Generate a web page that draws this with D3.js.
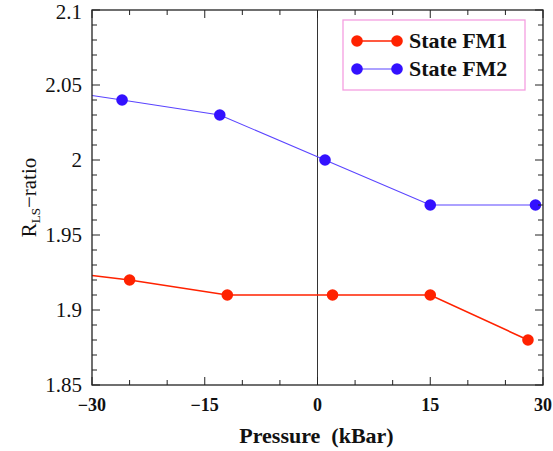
<!DOCTYPE html>
<html>
<head>
<meta charset="utf-8">
<script src="https://cdn.jsdelivr.net/npm/d3@7"></script>
<style>
body { margin: 0; background: #fff; }
svg text { font-family: "Liberation Serif", "Times New Roman", serif; }
</style>
</head>
<body>
<svg id="chart" width="553" height="451"></svg>
<script>
// data; first point of each series has no marker
var fm1Pressure = [-30, -25, -12, 2, 15, 28];
var fm1Ratio = [1.923, 1.92, 1.91, 1.91, 1.91, 1.88];
var fm2Pressure = [-30, -26, -13, 1, 15, 29];
var fm2Ratio = [2.043, 2.04, 2.03, 2.0, 1.97, 1.97];
var xTicks = [-30, -15, 0, 15, 30];
var yTicks = [1.85, 1.9, 1.95, 2, 2.05, 2.1];
var seriesNames = ['State FM1', 'State FM2'];

var svg = d3.select('#chart');
// note: "top" is taken by window.top, so use pTop/pBottom
var pLeft = 92, pRight = 543, pTop = 10, pBottom = 385;
var x = d3.scaleLinear().domain([-30, 30]).range([pLeft, pRight]);
var y = d3.scaleLinear().domain([1.85, 2.1]).range([pBottom, pTop]);

var series = [
    { name: seriesNames[0], px: fm1Pressure, py: fm1Ratio, color: '#ff2200', line: '#ff2200', lw: 1.6 },
    { name: seriesNames[1], px: fm2Pressure, py: fm2Ratio, color: '#3311ff', line: '#5a44ff', lw: 1.1 }
];

// zero line
svg.append('line')
    .attr('x1', x(0)).attr('x2', x(0)).attr('y1', pTop).attr('y2', pBottom)
    .attr('stroke', '#333').attr('stroke-width', 1);

// lines + markers
var lineGen = d3.line().x(function (d) { return x(d[0]); }).y(function (d) { return y(d[1]); });
series.forEach(function (s) {
    var pts = s.px.map(function (v, i) { return [v, s.py[i]]; });
    svg.append('path').datum(pts)
        .attr('d', lineGen).attr('fill', 'none')
        .attr('stroke', s.line).attr('stroke-width', s.lw);
    svg.append('g').selectAll('circle').data(pts.slice(1)).enter()
        .append('circle')
        .attr('cx', function (d) { return x(d[0]); })
        .attr('cy', function (d) { return y(d[1]); })
        .attr('r', 5.8).attr('fill', s.color);
});

// axes with inward ticks
var yMinor = d3.range(0, 26).map(function (i) { return 1.85 + i * 0.01; });
var xMinor = d3.range(0, 13).map(function (i) { return -30 + i * 5; });
var axisG = svg.append('g').attr('stroke', '#222').attr('stroke-width', 1);
function tick(x1, y1, x2, y2) {
    axisG.append('line').attr('x1', x1).attr('y1', y1).attr('x2', x2).attr('y2', y2);
}
yMinor.forEach(function (v, i) {
    var len = (i % 5 === 0) ? 8 : 5;
    tick(pLeft, y(v), pLeft + len, y(v));
    tick(pRight, y(v), pRight - len, y(v));
});
xMinor.forEach(function (v) {
    var len = (v % 15 === 0) ? 8 : 5;
    tick(x(v), pBottom, x(v), pBottom - len);
    tick(x(v), pTop, x(v), pTop + len);
});
svg.append('rect')
    .attr('x', pLeft).attr('y', pTop).attr('width', pRight - pLeft).attr('height', pBottom - pTop)
    .attr('fill', 'none').attr('stroke', '#222').attr('stroke-width', 1.3);

// tick labels
svg.append('g').selectAll('text').data(yTicks).enter().append('text')
    .attr('x', pLeft - 10).attr('y', function (d) { return Math.max(y(d) + 7, 19); })
    .attr('text-anchor', 'end').attr('font-size', 21).attr('fill', '#111')
    .text(function (d) { return d3.format('')(d); });
svg.append('g').selectAll('text').data(xTicks).enter().append('text')
    .attr('x', function (d) { return x(d); }).attr('y', pBottom + 26)
    .attr('text-anchor', 'middle').attr('font-size', 18).attr('font-weight', 'bold').attr('fill', '#111')
    .text(function (d) { return d < 0 ? '\u2212' + Math.abs(d) : d; });

// axis titles
svg.append('text')
    .attr('x', (pLeft + pRight) / 2 - 1).attr('y', 443)
    .attr('text-anchor', 'middle').attr('font-size', 22).attr('font-weight', 'bold').attr('fill', '#111')
    .attr('xml:space', 'preserve')
    .text('Pressure  (kBar)');
var yt = svg.append('text')
    .attr('transform', 'translate(36,' + ((pTop + pBottom) / 2) + ') rotate(-90)')
    .attr('text-anchor', 'middle').attr('font-size', 21).attr('fill', '#111');
yt.append('tspan').text('R');
yt.append('tspan').attr('font-size', 13).attr('dy', 4).text('LS');
yt.append('tspan').attr('dy', -4).text('\u2212ratio');

// legend
var lg = svg.append('g');
lg.append('rect').attr('x', 343).attr('y', 20).attr('width', 182).attr('height', 70)
    .attr('fill', '#fff').attr('stroke', '#f59ee0').attr('stroke-width', 1.3);
series.forEach(function (s, i) {
    var ly = 41 + i * 28;
    lg.append('line').attr('x1', 357).attr('x2', 397).attr('y1', ly).attr('y2', ly)
        .attr('stroke', s.line).attr('stroke-width', s.lw);
    [357, 397].forEach(function (cx) {
        lg.append('circle').attr('cx', cx).attr('cy', ly).attr('r', 5.8).attr('fill', s.color);
    });
    lg.append('text').attr('x', 409).attr('y', ly + 7)
        .attr('font-size', 22).attr('font-weight', 'bold').attr('fill', '#111')
        .text(s.name);
});
</script>
</body>
</html>
